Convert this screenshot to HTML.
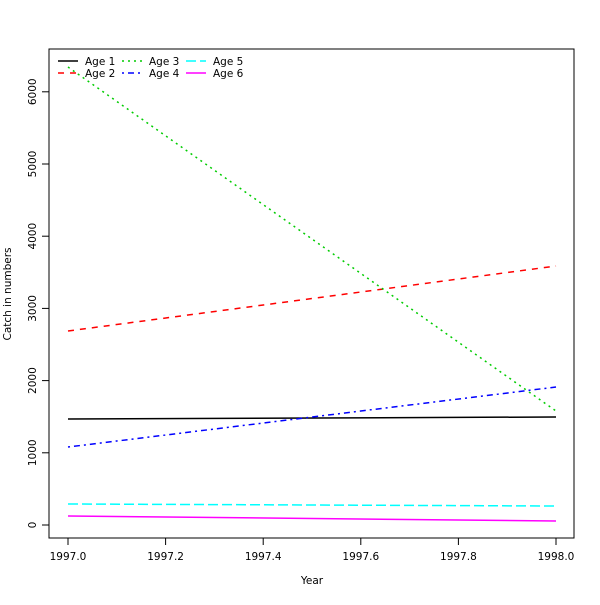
<!DOCTYPE html>
<html><head><meta charset="utf-8"><style>
body{margin:0;background:#fff;font-family:"Liberation Sans","DejaVu Sans",sans-serif}
svg text{font-family:"DejaVu Sans","Liberation Sans",sans-serif;font-size:10.5px;fill:#000}
</style></head><body>
<svg id="chart" width="600" height="600">
<rect x="49" y="49" width="525" height="489" fill="none" stroke="#000"/>
<g id="axes"></g><g id="series"></g><g id="legend"></g>
<text x="312" y="584" text-anchor="middle">Year</text>
<text transform="translate(11,294) rotate(-90)" text-anchor="middle">Catch in numbers</text>
</svg>
<script>
const years=[1997,1998];
const seriesNames=["Age 1","Age 2","Age 3","Age 4","Age 5","Age 6"];
const age1=[1468,1496];
const age2=[2687,3587];
const age3=[6343,1579];
const age4=[1080,1911];
const age5=[291,263];
const age6=[125,55];
const xTicks=[1997.0,1997.2,1997.4,1997.6,1997.8,1998.0];
const yTicks=[0,1000,2000,3000,4000,5000,6000];
const allSeries=[age1,age2,age3,age4,age5,age6];
const colors=["#000","#f00","#0c0","#00f","#0ff","#f0f"];
const dashes=["none","6 6","2 4","2 4 6 4","10 4","none"];
const NS="http://www.w3.org/2000/svg";
const X=v=>68+(v-1997)*488;
const Y=v=>525-v*0.0722;
function mk(t,a,p){const e=document.createElementNS(NS,t);for(const k in a)e.setAttribute(k,a[k]);p.appendChild(e);return e;}
const ax=document.getElementById('axes');
xTicks.forEach(t=>{
 const l=mk('line',{x1:X(t),x2:X(t),y1:538,y2:545,stroke:'#000'},ax);
 
 
 const tx=mk('text',{x:X(t),y:560,'text-anchor':'middle'},ax);tx.textContent=t.toFixed(1);
 
 
});
yTicks.forEach(t=>{
 const l=mk('line',{x1:42,x2:49,y1:Y(t),y2:Y(t),stroke:'#000'},ax);
 
 
 const tx=mk('text',{transform:`translate(36,${Y(t)}) rotate(-90)`,'text-anchor':'middle'},ax);tx.textContent=t;
 
 
});
const sg=document.getElementById('series');
allSeries.forEach((s,i)=>{
 const pts=s.map((v,j)=>X(years[j])+','+Y(v)).join(' ');
 const p=mk('polyline',{points:pts,fill:'none',stroke:colors[i],'stroke-width':1.5,'stroke-dasharray':dashes[i]},sg);
 
 
});
const lg=document.getElementById('legend');
seriesNames.forEach((n,i)=>{
 const col=Math.floor(i/2),row=i%2;
 const x0=58+col*64,y0=61+row*12;
 const g=mk('g',{},lg);
 
 
 mk('line',{x1:x0,x2:x0+20,y1:y0,y2:y0,stroke:colors[i],'stroke-width':1.5,'stroke-dasharray':dashes[i]},g);
 const t=mk('text',{x:x0+27,y:y0+4},g);t.textContent=n;
});
</script>
</body></html>
